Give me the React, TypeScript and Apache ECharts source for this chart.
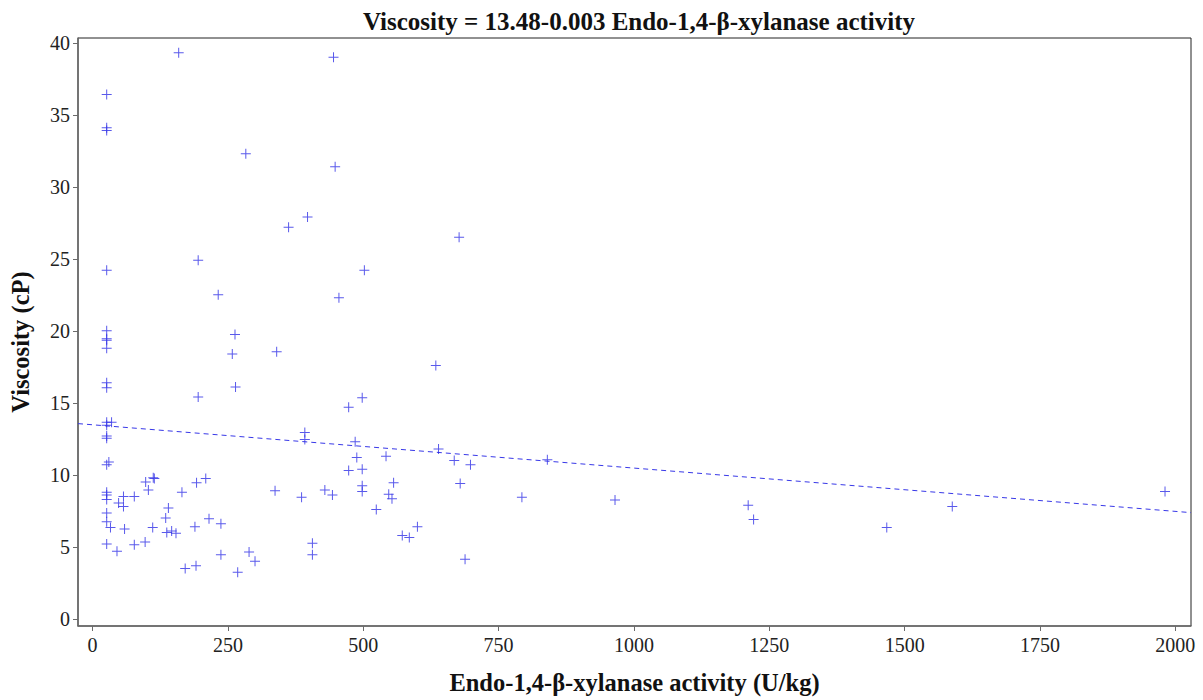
import React, { useEffect, useRef } from "react";
import * as echarts from "echarts";

// Endo-1,4-β-xylanase activity (U/kg)
const activity: number[] = [
  26, 26, 26, 159, 445, 283, 448, 397, 362, 26,
  195, 232, 455, 502, 677, 26, 26, 26, 26, 263,
  258, 340, 634, 26, 26, 264, 195, 473, 498, 26,
  35, 26, 26, 26, 392, 392, 485, 488, 498, 473,
  498, 498, 542, 556, 547, 553, 524, 30, 26, 26,
  26, 26, 26, 26, 33, 26, 45, 57, 48, 57,
  59, 77, 77, 97, 98, 103, 112, 114, 111, 135,
  140, 137, 146, 154, 165, 171, 192, 209, 189, 191,
  215, 237, 237, 268, 289, 300, 337, 386, 406, 406,
  429, 443, 572, 585, 600, 639, 668, 698, 679, 688,
  793, 840, 965, 1211, 1221, 1467, 1588, 1981,
];

// Viscosity (cP)
const viscosity: number[] = [
  36.4, 34.1, 33.9, 39.3, 39.0, 32.3, 31.4, 27.9, 27.2, 24.2,
  24.9, 22.5, 22.3, 24.2, 26.5, 20.0, 19.45, 19.35, 18.8, 19.75,
  18.4, 18.55, 17.6, 16.4, 16.05, 16.1, 15.4, 14.7, 15.35, 13.65,
  13.65, 13.45, 12.7, 12.55, 12.95, 12.45, 12.3, 11.2, 10.4, 10.3,
  9.25, 8.85, 11.3, 9.45, 8.65, 8.35, 7.6, 10.9, 10.7, 8.8,
  8.6, 8.3, 7.35, 6.75, 6.35, 5.2, 4.7, 8.5, 8.05, 7.8,
  6.25, 8.5, 5.15, 5.35, 9.5, 8.95, 9.8, 9.75, 6.35, 7.0,
  7.7, 6.0, 6.1, 5.95, 8.8, 3.5, 9.45, 9.75, 6.4, 3.7,
  6.95, 6.6, 4.45, 3.25, 4.65, 4.0, 8.9, 8.45, 5.25, 4.45,
  8.95, 8.6, 5.8, 5.65, 6.4, 11.8, 11.0, 10.7, 9.4, 4.15,
  8.45, 11.05, 8.25, 7.9, 6.9, 6.35, 7.8, 8.85,
];

// Fitted line end points, read at the plot edges
const fitX: number[] = [-27, 2029];
const fitY: number[] = [13.56, 7.38];

const xTicks: number[] = [0, 250, 500, 750, 1000, 1250, 1500, 1750, 2000];
const yTicks: number[] = [0, 5, 10, 15, 20, 25, 30, 35, 40];

const titleText = "Viscosity = 13.48-0.003 Endo-1,4-β-xylanase activity";
const xName = "Endo-1,4-β-xylanase activity (U/kg)";
const yName = "Viscosity (cP)";

const SERIF = "'Liberation Serif', 'Times New Roman', serif";
const PLUS = "path://M4.5,0H5.5V4.5H10V5.5H5.5V10H4.5V5.5H0V4.5H4.5Z";

export default function App() {
  const ref = useRef<HTMLDivElement>(null);

  useEffect(() => {
    if (!ref.current) return;
    const chart = echarts.init(ref.current, undefined, { renderer: "svg" });
    const points = activity.map((x, i) => [x, viscosity[i]]);
    const fit = fitX.map((x, i) => [x, fitY[i]]);
    const axisLabel = {
      color: "#222",
      fontFamily: SERIF,
      fontSize: 20,
      formatter: (v: number) => String(v),
    };
    chart.setOption({
      animation: false,
      backgroundColor: "#ffffff",
      title: {
        text: titleText,
        left: 634,
        top: 4,
        textAlign: "center",
        textStyle: { fontFamily: SERIF, fontWeight: "bold", fontSize: 25, color: "#111" },
      },
      grid: {
        left: 78,
        right: 12,
        top: 38,
        bottom: 73,
        show: true,
        borderColor: "#222",
        borderWidth: 1,
        containLabel: false,
      },
      xAxis: {
        type: "value",
        min: -27,
        max: 2029,
        name: xName,
        nameLocation: "middle",
        nameGap: 44,
        nameTextStyle: { fontFamily: SERIF, fontWeight: "bold", fontSize: 24.5, color: "#111" },
        axisLine: { show: true, onZero: false, lineStyle: { color: "#6b6b6b", width: 1.5 } },
        axisTick: { show: true, length: 5, customValues: xTicks, lineStyle: { color: "#6b6b6b" } },
        axisLabel: { ...axisLabel, margin: 9, customValues: xTicks },
        splitLine: { show: false },
      },
      yAxis: {
        type: "value",
        min: -0.49,
        max: 40.33,
        name: yName,
        nameLocation: "middle",
        nameGap: 45,
        nameTextStyle: {
          fontFamily: SERIF,
          fontWeight: "bold",
          fontSize: 24.5,
          color: "#111",
          padding: [0, 20, 0, 0],
        },
        axisLine: { show: true, onZero: false, lineStyle: { color: "#6b6b6b", width: 1.5 } },
        axisTick: { show: true, length: 5, customValues: yTicks, lineStyle: { color: "#6b6b6b" } },
        axisLabel: { ...axisLabel, margin: 8, customValues: yTicks },
        splitLine: { show: false },
      },
      series: [
        {
          type: "scatter",
          data: points,
          symbol: PLUS,
          symbolSize: 10,
          itemStyle: { color: "#2f2fe6" },
          z: 3,
        },
        {
          type: "line",
          data: fit,
          showSymbol: false,
          symbol: "none",
          lineStyle: { color: "#3838e8", width: 1, type: [5, 4] },
          z: 2,
        },
      ],
    });
    return () => chart.dispose();
  }, []);

  return (
    <div
      ref={ref}
      style={{ position: "absolute", left: 0, top: 0, width: 1203, height: 700 }}
    />
  );
}
